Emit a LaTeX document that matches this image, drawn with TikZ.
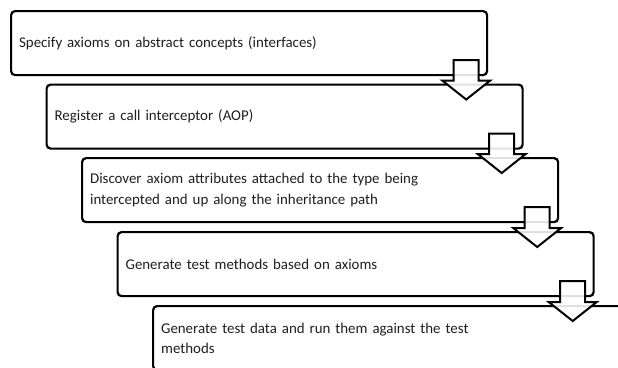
\documentclass[tikz,border=0pt]{standalone}
\usepackage{fontspec}
\setmainfont{Carlito}
\usetikzlibrary{calc}
\tikzset{
  stepbox/.style={draw=black, line width=2.2bp, rounded corners=4bp, fill=white,
    minimum width=476bp, minimum height=64bp, anchor=north west,
    text width=460bp, inner xsep=8bp, align=left,
    font=\fontsize{14.9bp}{20bp}\selectfont, text=black!88},
  blockarr/.style={draw=black, line width=2bp, fill=white, fill opacity=0.88, line join=miter}
}
\newcommand\blockarrow[2]{%
  \coordinate (#1top) at ($(#1.south east)+(-22,-16)$);
  \coordinate (#1aux) at ($(#2.north)+(0,16)$);
  \coordinate (#1tip) at (#1top |- #1aux);
  \draw[blockarr] ($(#1top)+(-12.5,0)$) -- ($(#1top)+(12.5,0)$)
    -- ($(#1tip)+(12.5,-19)$) -- ($(#1tip)+(24,-19)$) -- (#1tip)
    -- ($(#1tip)+(-24,-19)$) -- ($(#1tip)+(-12.5,-19)$) -- cycle;
}
\begin{document}
\begin{tikzpicture}[x=1bp, y=-1bp]
\useasboundingbox (0,0) rectangle (618,367);
\clip (0,0) rectangle (618,367);
\node[stepbox] (s1) at (10,10) {Specify axioms on abstract concepts (interfaces)};
\node[stepbox] (s2) at (45.5,83.5) {Register a call interceptor (AOP)};
\node[stepbox] (s3) at (81,157) {Discover axiom attributes attached to the type being\\intercepted and up along the inheritance path};
\node[stepbox] (s4) at (116.5,231) {Generate test methods based on axioms};
\node[stepbox] (s5) at (152,305) {Generate test data and run them against the test\\methods};
\blockarrow{s1}{s2}
\blockarrow{s2}{s3}
\blockarrow{s3}{s4}
\blockarrow{s4}{s5}
\end{tikzpicture}
\end{document}
